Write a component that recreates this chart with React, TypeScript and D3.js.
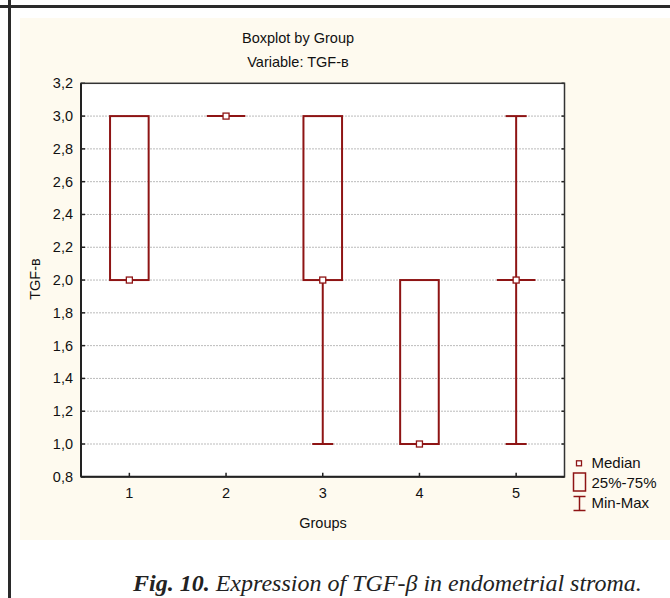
import React from "react";
import * as d3 from "d3";

const groups = [1, 2, 3, 4, 5];
const minVals = [2, 3, 1, 1, 1];
const q1Vals = [2, 3, 2, 1, 2];
const medianVals = [2, 3, 2, 1, 2];
const q3Vals = [3, 3, 3, 2, 2];
const maxVals = [3, 3, 3, 2, 3];
const yTicks = [0.8, 1.0, 1.2, 1.4, 1.6, 1.8, 2.0, 2.2, 2.4, 2.6, 2.8, 3.0, 3.2];

const RED = "#8E1414";
const FONT = "'Liberation Sans', Arial, sans-serif";
const FS = 14.5;

export default function App() {
  const W = 670, H = 598;
  const left = 81, right = 564.5, top = 83.3, bottom = 476.8;
  const x = d3.scaleLinear().domain([0.5, 5.5]).range([left, right]);
  const y = d3.scaleLinear().domain([0.8, 3.2]).range([bottom, top]);
  const boxHalf = 19.3;
  const capHalf = 10.5;
  const fmt = (v: number) => d3.format(".1f")(v).replace(".", ",");

  return (
    <svg width={W} height={H} style={{ position: "absolute", left: 0, top: 0, background: "#fff" }}>
      <rect x={20} y={18} width={650} height={522} fill="#FEFAEF" />
      <line x1={9.5} x2={9.5} y1={0} y2={H} stroke="#2a2a2a" strokeWidth={3} />
      <line x1={0} x2={W} y1={6.5} y2={6.5} stroke="#2a2a2a" strokeWidth={3} />

      <text x={298} y={43} textAnchor="middle" fontFamily={FONT} fontSize={FS} fill="#111">Boxplot by Group</text>
      <text x={298} y={67} textAnchor="middle" fontFamily={FONT} fontSize={FS} fill="#111">Variable: TGF-в</text>

      <rect x={left} y={top} width={right - left} height={bottom - top} fill="#fff" />
      {yTicks.slice(1, -1).map((t) => (
        <line key={"g" + t} x1={left} x2={right} y1={y(t)} y2={y(t)} stroke="#bbb" strokeWidth={1} strokeDasharray="2,1" />
      ))}
      {yTicks.map((t) => (
        <g key={"yt" + t}>
          <line x1={left} x2={left + 4} y1={y(t)} y2={y(t)} stroke="#222" strokeWidth={1.5} />
          <line x1={right - 3} x2={right} y1={y(t)} y2={y(t)} stroke="#222" strokeWidth={1.5} />
          <text x={73} y={y(t) + 5} textAnchor="end" fontFamily={FONT} fontSize={FS} fill="#111">{fmt(t)}</text>
        </g>
      ))}
      {groups.map((g) => (
        <g key={"xt" + g}>
          <line x1={x(g)} x2={x(g)} y1={bottom} y2={bottom - 4} stroke="#222" strokeWidth={1.5} />
          <text x={x(g)} y={bottom + 21} textAnchor="middle" fontFamily={FONT} fontSize={FS} fill="#111">{g}</text>
        </g>
      ))}

      {groups.map((g, i) => {
        const cx = x(g);
        return (
          <g key={"b" + g}>
            {maxVals[i] > q3Vals[i] && (
              <g>
                <line x1={cx} x2={cx} y1={y(maxVals[i])} y2={y(q3Vals[i])} stroke={RED} strokeWidth={2} />
                <line x1={cx - capHalf} x2={cx + capHalf} y1={y(maxVals[i])} y2={y(maxVals[i])} stroke={RED} strokeWidth={2} />
              </g>
            )}
            {minVals[i] < q1Vals[i] && (
              <g>
                <line x1={cx} x2={cx} y1={y(minVals[i])} y2={y(q1Vals[i])} stroke={RED} strokeWidth={2} />
                <line x1={cx - capHalf} x2={cx + capHalf} y1={y(minVals[i])} y2={y(minVals[i])} stroke={RED} strokeWidth={2} />
              </g>
            )}
            {q3Vals[i] > q1Vals[i] ? (
              <rect x={cx - boxHalf} y={y(q3Vals[i])} width={boxHalf * 2} height={y(q1Vals[i]) - y(q3Vals[i])} fill="none" stroke={RED} strokeWidth={2} />
            ) : (
              <line x1={cx - boxHalf} x2={cx + boxHalf} y1={y(q1Vals[i])} y2={y(q1Vals[i])} stroke={RED} strokeWidth={2} />
            )}
            <rect x={cx - 3} y={y(medianVals[i]) - 3} width={6} height={6} fill="#fff" stroke={RED} strokeWidth={1.3} />
          </g>
        );
      })}

      <rect x={left} y={top} width={right - left} height={bottom - top} fill="none" stroke="#333" strokeWidth={1.5} />
      <line x1={left} x2={left} y1={top} y2={bottom} stroke="#222" strokeWidth={2} />
      <line x1={left} x2={right} y1={bottom} y2={bottom} stroke="#222" strokeWidth={2} />

      <text transform={`translate(40,279) rotate(-90)`} textAnchor="middle" fontFamily={FONT} fontSize={FS} fill="#111">TGF-в</text>
      <text x={323} y={528} textAnchor="middle" fontFamily={FONT} fontSize={FS} fill="#111">Groups</text>

      <rect x={576.5} y={460.8} width={5} height={5} fill="#fff" stroke={RED} strokeWidth={1.3} />
      <text x={591.5} y={468} fontFamily={FONT} fontSize={15} fill="#111">Median</text>
      <rect x={573.5} y={473} width={12} height={18} fill="none" stroke={RED} strokeWidth={1.5} />
      <text x={591.5} y={488} fontFamily={FONT} fontSize={15} fill="#111">25%-75%</text>
      <line x1={573.5} x2={585.5} y1={496.5} y2={496.5} stroke={RED} strokeWidth={1.5} />
      <line x1={573.5} x2={585.5} y1={510.5} y2={510.5} stroke={RED} strokeWidth={1.5} />
      <line x1={579.5} x2={579.5} y1={496.5} y2={510.5} stroke={RED} strokeWidth={1.5} />
      <text x={591.5} y={507.5} fontFamily={FONT} fontSize={15} fill="#111">Min-Max</text>

      <text x={133} y={591} fontFamily="'Liberation Serif', 'Times New Roman', serif" fontSize={24} fontStyle="italic" fill="#222">
        <tspan fontWeight="bold">Fig. 10.</tspan> Expression of TGF-β in endometrial stroma.
      </text>
    </svg>
  );
}
